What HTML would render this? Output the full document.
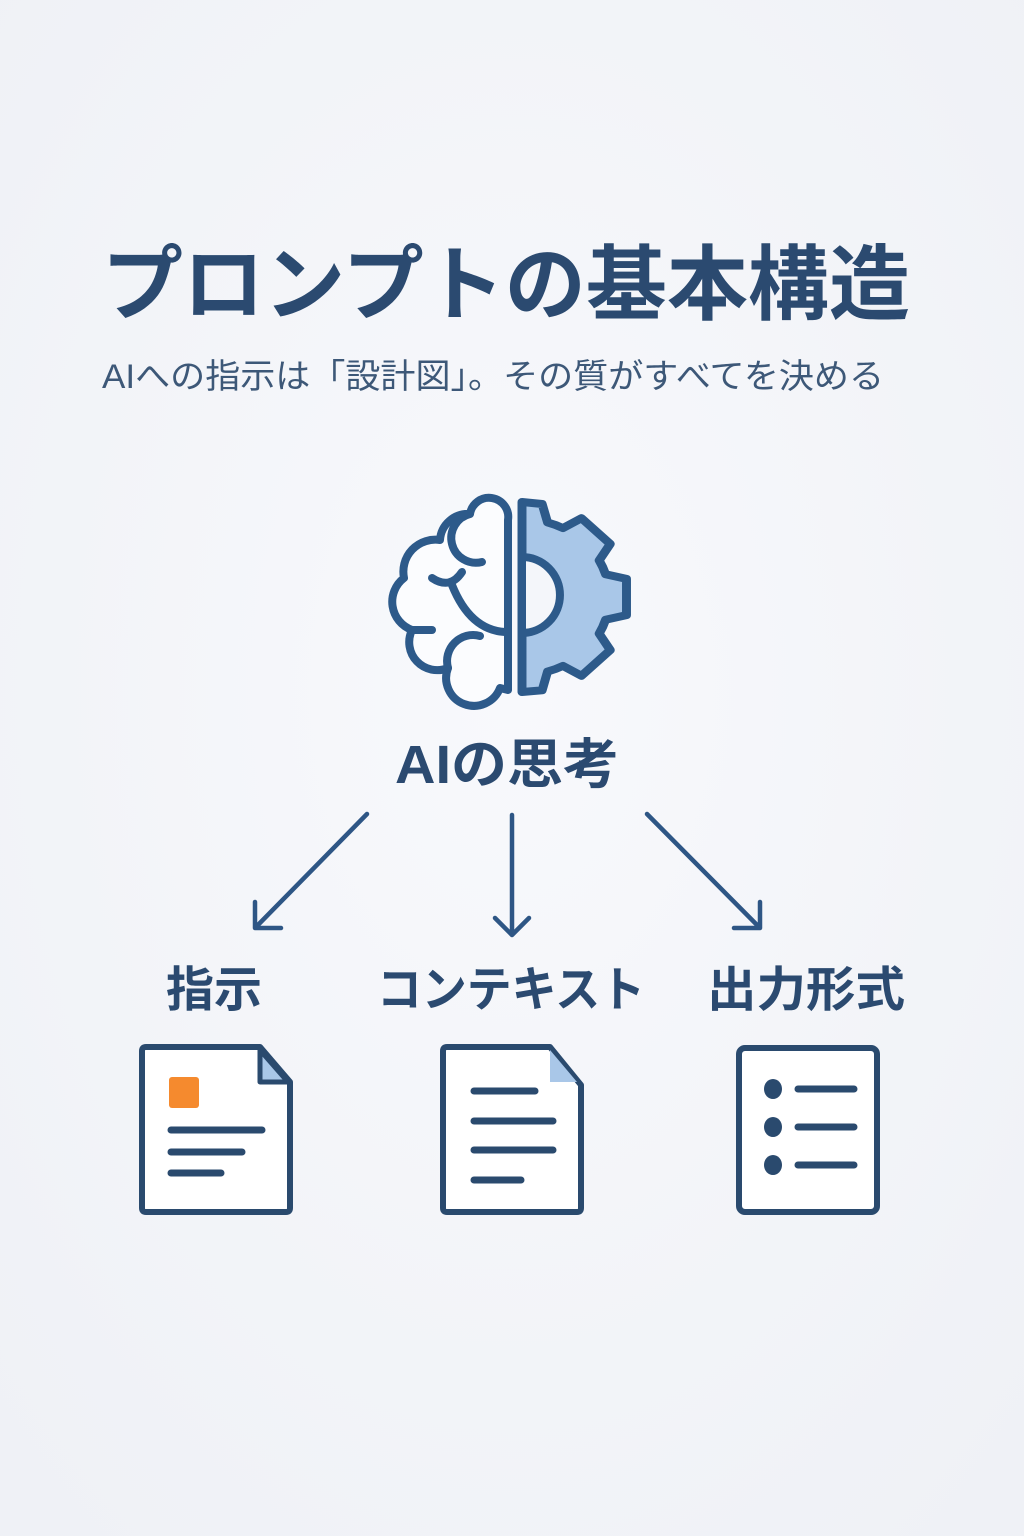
<!DOCTYPE html>
<html><head><meta charset="utf-8"><style>
html,body{margin:0;padding:0;width:1024px;height:1536px;overflow:hidden;background:#f3f5f9;}
svg{display:block}
</style></head><body>
<svg width="1024" height="1536" viewBox="0 0 1024 1536" xmlns="http://www.w3.org/2000/svg">
<defs><radialGradient id="bg" cx="50%" cy="45%" r="70%"><stop offset="0" stop-color="#f8f9fc"/><stop offset="1" stop-color="#eff1f6"/></radialGradient></defs>
<rect width="1024" height="1536" fill="url(#bg)"/>
<g font-family="'Liberation Sans','Noto Sans CJK JP',sans-serif" fill="#2b4a70">
<text x="102" y="313" font-size="82" font-weight="bold" textLength="808" lengthAdjust="spacingAndGlyphs">プロンプトの基本構造</text>
<text x="102" y="388" font-size="34" fill="#3d5878" textLength="782" lengthAdjust="spacingAndGlyphs">AIへの指示は「設計図」。その質がすべてを決める</text>
<text x="507" y="783" font-size="54" font-weight="bold" text-anchor="middle" textLength="224" lengthAdjust="spacingAndGlyphs">AIの思考</text>
<text x="214" y="1006" font-size="48" font-weight="bold" text-anchor="middle">指示</text>
<text x="511" y="1006" font-size="48" font-weight="bold" text-anchor="middle" textLength="268" lengthAdjust="spacingAndGlyphs">コンテキスト</text>
<text x="806" y="1006" font-size="48" font-weight="bold" text-anchor="middle" textLength="198" lengthAdjust="spacingAndGlyphs">出力形式</text>
</g>
<!-- brain -->
<g fill="none" stroke="#2d5a8a" stroke-width="8" stroke-linecap="round" stroke-linejoin="round">
<path d="M508,690 L508,520 A19,19 0 0 0 470,514 A28,28 0 0 0 440,540 A32,32 0 0 0 404,578 A30,30 0 0 0 412,630 A28,28 0 0 0 448,668 A24,24 0 0 0 500,688 Z" fill="#fbfcfe"/>
<path d="M470,514 A24,24 0 0 0 482,562"/>
<path d="M432,578 Q450,590 462,572"/>
<path d="M452,585 Q470,630 505,632"/>
<path d="M412,630 L432,630"/>
<path d="M448,668 A26,26 0 0 1 480,636"/>
<g transform="translate(522,597) scale(1.12,1) translate(-522,-597)">
<path d="M522,502 L540,504 L544.8,522.4 A78,78 0 0 1 558.6,528.1 L575.1,518.2 L600.8,543.9 L590.9,560.4 A78,78 0 0 1 596.6,574.2 L615.3,578.9 L615.3,615.1 L596.6,619.8 A78,78 0 0 1 590.9,633.6 L600.8,650.1 L575.1,675.8 L558.6,665.9 A78,78 0 0 1 544.8,671.6 L540,690.3 L522,692 Z" fill="#a9c7e8"/>
</g>
<path d="M522,557 A38,38 0 0 1 522,633 Z" fill="#f4f6fa"/>
</g>
<!-- arrows -->
<g stroke="#2e5685" stroke-width="4.5" fill="none" stroke-linecap="round" stroke-linejoin="round">
<path d="M367,814 L255,928 M255,902 L255,928 L281,928"/>
<path d="M512,815 L512,935 M495,918 L512,935 L529,918"/>
<path d="M647,814 L760,928 M760,902 L760,928 L734,928"/>
</g>
<!-- docs -->
<g stroke="#2a4a6e" stroke-width="6" stroke-linejoin="round" stroke-linecap="round">
<path d="M146,1047 L260,1047 L290,1082 L290,1208 Q290,1212 286,1212 L146,1212 Q142,1212 142,1208 L142,1051 Q142,1047 146,1047 Z" fill="#fff"/>
<path d="M260,1050 L260,1082 L288,1082 Z" fill="#a9c7e8" stroke-width="5"/>
<rect x="169" y="1077" width="30" height="31" rx="3" fill="#f58a2e" stroke="none"/>
<path d="M171,1130 L262,1130 M171,1152 L242,1152 M171,1173 L221,1173" stroke-width="7"/>
<path d="M447,1047 L550,1047 L581,1085 L581,1208 Q581,1212 577,1212 L447,1212 Q443,1212 443,1208 L443,1051 Q443,1047 447,1047 Z" fill="#fff"/>
<path d="M550,1050 L550,1082 L577,1082 Z" fill="#a9c7e8" stroke="none"/>
<path d="M474,1091 L535,1091 M474,1121 L553,1121 M474,1150 L553,1150 M474,1180 L521,1180" stroke-width="7"/>
<rect x="739" y="1048" width="138" height="164" rx="6" fill="#fff"/>
<path d="M798,1089 L854,1089 M798,1127 L854,1127 M798,1165 L854,1165" stroke-width="7"/>
</g>
<g fill="#2a4a6e"><ellipse cx="773" cy="1089" rx="9" ry="10"/><ellipse cx="773" cy="1127" rx="9" ry="10"/><ellipse cx="773" cy="1165" rx="9" ry="10"/></g>
</svg>
</body></html>
